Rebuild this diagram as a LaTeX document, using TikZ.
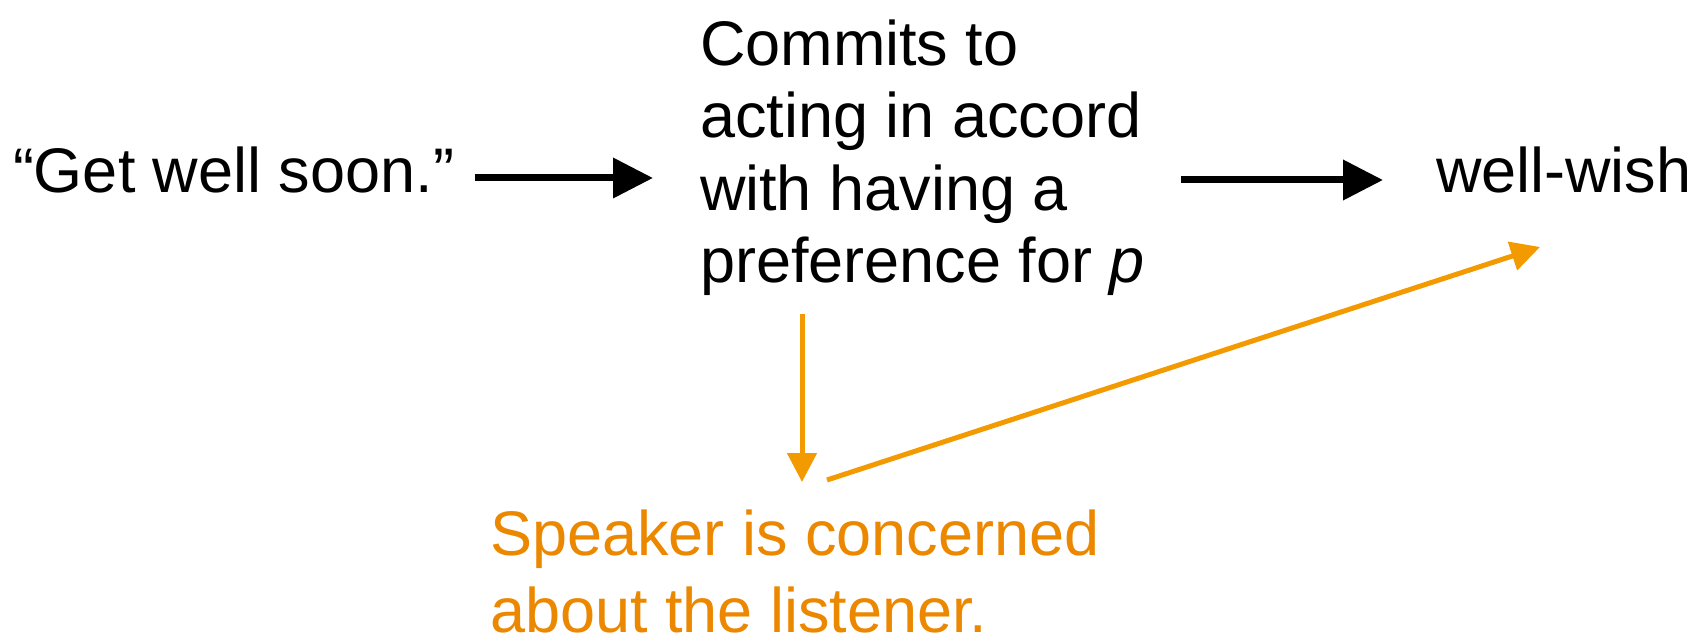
\documentclass[tikz,border=0pt]{standalone}
\usepackage{fontspec}
\setmainfont{Liberation Sans}
\usetikzlibrary{arrows.meta}
\definecolor{arrorange}{RGB}{243,154,0}
\definecolor{txtorange}{RGB}{236,135,0}
\tikzset{
  lbl/.style={inner sep=0pt, outer sep=0pt, align=left, font=\fontsize{63}{72.5}\selectfont},
  olbl/.style={inner sep=0pt, outer sep=0pt, align=left, text=txtorange, font=\fontsize{63}{77}\selectfont},
  blackarrow/.style={line width=7pt, draw=black, -{Triangle[length=40pt,width=39pt]}},
  orangearrow/.style={line width=5pt, draw=arrorange, -{Triangle[length=29pt,width=29pt]}},
}
\begin{document}
\begin{tikzpicture}[x=1pt,y=-1pt]
\useasboundingbox (0,0) rectangle (1699,636);
\node[lbl, anchor=base west] (get) at (13,193) {“Get well soon.”};
\node[lbl, anchor=base west] (commit) at (700,283) {Commits to\\acting in accord\\with having a\\preference for \textit{p}};
\node[lbl, anchor=base west] (wish) at (1436,193) {well-wish};
\node[olbl, anchor=base west] (concern) at (490,632) {Speaker is concerned\\about the listener.};
\coordinate (a1s) at (475,178);
\coordinate (a1e) at (653,178);
\coordinate (a2s) at (1181,180);
\coordinate (a2e) at (1383,180);
\coordinate (a3s) at (802,314);
\coordinate (a3e) at (802,482);
\coordinate (a4s) at (827,480);
\coordinate (a4e) at (1540,247);
\draw[blackarrow] (a1s) -- (a1e);
\draw[blackarrow] (a2s) -- (a2e);
\draw[orangearrow] (a3s) -- (a3e);
\draw[orangearrow] (a4s) -- (a4e);
\end{tikzpicture}
\end{document}
